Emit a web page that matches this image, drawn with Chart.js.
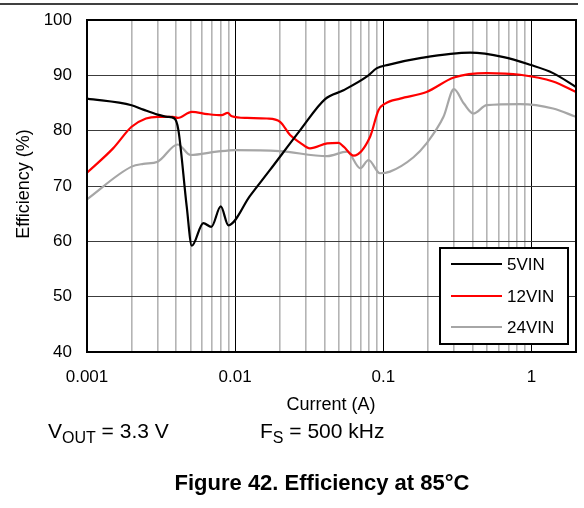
<!DOCTYPE html>
<html>
<head>
<meta charset="utf-8">
<script src="https://cdn.jsdelivr.net/npm/chart.js@4.4.0/dist/chart.umd.min.js"></script>
<style>
  html, body { margin: 0; padding: 0; background: #fff; }
  #wrap { width: 584px; height: 508px; }
</style>
</head>
<body>
<div id="wrap"><canvas id="myChart" width="584" height="508"></canvas></div>
<script>
const seriesNames = ['5VIN', '12VIN', '24VIN'];
const seriesColors = ['#000000', '#ff0000', '#a6a6a6'];

const current5 = [0.001, 0.002, 0.0024, 0.003, 0.0035, 0.0039, 0.00414, 0.00471, 0.0051, 0.0061, 0.0069, 0.008, 0.009, 0.0126, 0.0172, 0.0275, 0.0405, 0.0539, 0.0777, 0.0906, 0.108, 0.177, 0.386, 0.65, 0.98, 1.4, 2.0];
const eff5 = [85.8, 84.6, 83.8, 82.9, 82.5, 82.2, 80.1, 66.3, 59.2, 63.3, 62.6, 66.3, 62.9, 68.2, 72.9, 80.1, 85.7, 87.3, 89.8, 91.3, 91.9, 93.1, 94.1, 93.3, 91.9, 90.4, 87.9];

const current12 = [0.001, 0.0015, 0.002, 0.0025, 0.003, 0.0038, 0.0041, 0.0051, 0.0065, 0.0081, 0.0089, 0.0095, 0.012, 0.0164, 0.0201, 0.0235, 0.0275, 0.032, 0.0418, 0.05, 0.054, 0.0632, 0.0815, 0.0928, 0.103, 0.13, 0.196, 0.3, 0.5, 0.84, 1.4, 2.0];
const eff12 = [72.4, 76.8, 80.7, 82.2, 82.5, 82.5, 82.3, 83.4, 83.0, 82.8, 83.2, 82.6, 82.3, 82.2, 81.6, 79.2, 77.8, 76.8, 77.7, 77.8, 77.1, 75.5, 78.9, 83.7, 84.9, 85.8, 87.0, 89.6, 90.4, 90.1, 88.9, 87.0];

const current24 = [0.001, 0.002, 0.0024, 0.003, 0.0041, 0.005, 0.0075, 0.01, 0.02, 0.0418, 0.057, 0.07, 0.0795, 0.095, 0.111, 0.16, 0.196, 0.255, 0.3, 0.35, 0.405, 0.5, 0.84, 1.4, 2.0];
const eff24 = [67.6, 73.5, 74.0, 74.4, 77.5, 75.6, 76.2, 76.5, 76.3, 75.4, 76.2, 73.2, 74.7, 72.3, 72.6, 75.2, 77.7, 82.5, 87.5, 84.9, 83.1, 84.6, 84.8, 84.0, 82.5];

const xTicks = [0.001, 0.002, 0.003, 0.004, 0.005, 0.006, 0.007, 0.008, 0.009,
  0.01, 0.02, 0.03, 0.04, 0.05, 0.06, 0.07, 0.08, 0.09,
  0.1, 0.2, 0.3, 0.4, 0.5, 0.6, 0.7, 0.8, 0.9,
  1, 2];
const xLabels = { 0.001: '0.001', 0.01: '0.01', 0.1: '0.1', 1: '1' };
const yTicks = [40, 50, 60, 70, 80, 90, 100];

const FONT = 'Arial, "Liberation Sans", sans-serif';

function pts(xs, ys) {
  return xs.map((x, i) => ({ x: x, y: ys[i] }));
}

function isDecade(v) {
  return xLabels[v] !== undefined;
}

const extras = {
  id: 'extras',
  afterDraw(chart) {
    const c = chart.ctx;
    const a = chart.chartArea;
    c.save();
    // frame
    c.strokeStyle = '#000';
    c.lineWidth = 2;
    c.strokeRect(a.left, a.top, a.right - a.left, a.bottom - a.top);
    // top rule
    c.lineWidth = 1.5;
    c.beginPath();
    c.moveTo(0, 4);
    c.lineTo(578, 4);
    c.stroke();

    // legend box
    c.fillStyle = '#fff';
    c.fillRect(440, 248, 128, 96);
    c.lineWidth = 2;
    c.strokeRect(440, 248, 128, 96);
    const rows = [264, 296, 327];
    c.font = '17px ' + FONT;
    c.textBaseline = 'middle';
    c.textAlign = 'left';
    chart.data.datasets.forEach((ds, i) => {
      c.strokeStyle = ds.borderColor;
      c.lineWidth = 2;
      c.beginPath();
      c.moveTo(451, rows[i]);
      c.lineTo(502, rows[i]);
      c.stroke();
      c.fillStyle = '#000';
      c.fillText(ds.label, 507, rows[i] + 1);
    });

    // axis titles
    c.fillStyle = '#000';
    c.textAlign = 'center';
    c.font = '18px ' + FONT;
    c.fillText('Current (A)', 331, 405);
    c.save();
    c.translate(24, 184);
    c.rotate(-Math.PI / 2);
    c.font = '18px ' + FONT;
    c.fillText('Efficiency (%)', 0, 0);
    c.restore();

    // conditions
    c.textAlign = 'left';
    c.textBaseline = 'alphabetic';
    let x = 48;
    c.font = '21px ' + FONT;
    c.fillText('V', x, 438);
    x += c.measureText('V').width;
    c.font = '16px ' + FONT;
    c.fillText('OUT', x, 443);
    x += c.measureText('OUT').width;
    c.font = '21px ' + FONT;
    c.fillText(' = 3.3 V', x, 438);

    x = 260;
    c.fillText('F', x, 438);
    x += c.measureText('F').width;
    c.font = '16px ' + FONT;
    c.fillText('S', x, 443);
    x += c.measureText('S').width;
    c.font = '21px ' + FONT;
    c.fillText(' = 500 kHz', x, 438);

    // figure caption
    c.textAlign = 'center';
    c.textBaseline = 'middle';
    c.font = 'bold 22px ' + FONT;
    c.fillText('Figure 42. Efficiency at 85°C', 322, 484);
    c.restore();
  }
};

const ctx = document.getElementById('myChart');

new Chart(ctx, {
  type: 'scatter',
  data: {
    datasets: [
      { label: seriesNames[0], data: pts(current5, eff5), borderColor: seriesColors[0] },
      { label: seriesNames[1], data: pts(current12, eff12), borderColor: seriesColors[1] },
      { label: seriesNames[2], data: pts(current24, eff24), borderColor: seriesColors[2] }
    ].map(ds => Object.assign(ds, {
      showLine: true,
      pointRadius: 0,
      borderWidth: 2.2,
      cubicInterpolationMode: 'monotone',
      fill: false
    }))
  },
  options: {
    responsive: false,
    animation: false,
    layout: { padding: { left: 0, top: 20, right: 8, bottom: 0 } },
    plugins: {
      legend: { display: false },
      tooltip: { enabled: false }
    },
    scales: {
      x: {
        type: 'logarithmic',
        min: 0.001,
        max: 2,
        afterBuildTicks: (scale) => { scale.ticks = xTicks.map(v => ({ value: v })); },
        afterFit: (scale) => {
          scale.height = 156;
          scale.paddingLeft = 0;
          scale.paddingRight = 0;
        },
        ticks: {
          autoSkip: false,
          maxRotation: 0,
          padding: 15,
          color: '#000',
          font: { family: FONT, size: 17 },
          callback: (v) => xLabels[v] !== undefined ? xLabels[v] : ''
        },
        grid: {
          drawTicks: false,
          color: (c) => isDecade(c.tick.value) ? '#000' : '#b4b4b4',
          lineWidth: (c) => isDecade(c.tick.value) ? 1 : 1.6
        },
        border: { display: false }
      },
      y: {
        min: 40,
        max: 100,
        afterBuildTicks: (scale) => { scale.ticks = yTicks.map(v => ({ value: v })); },
        afterFit: (scale) => {
          scale.width = 87;
          scale.paddingTop = 0;
          scale.paddingBottom = 0;
        },
        ticks: {
          padding: 15,
          color: '#000',
          font: { family: FONT, size: 17 }
        },
        grid: {
          drawTicks: false,
          color: '#3c3c3c',
          lineWidth: 1
        },
        border: { display: false }
      }
    }
  },
  plugins: [extras]
});
</script>
</body>
</html>
